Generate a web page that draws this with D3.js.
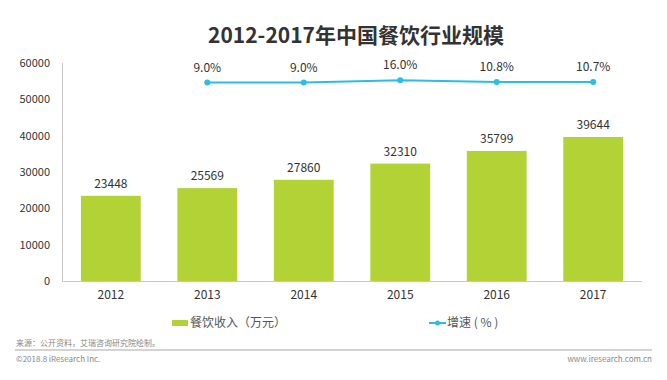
<!DOCTYPE html>
<html lang="zh">
  <head>
    <meta charset="UTF-8" />
    <script src="https://d3js.org/d3.v7.min.js"></script>
    <style>
      body { margin: 0; background: #fff; }
      text { font-family: "Noto Sans CJK SC", "Noto Sans", sans-serif; }
    </style>
  </head>
  <body>
    <script>
      // data
      var years = ["2012", "2013", "2014", "2015", "2016", "2017"];
      var revenue = [23448, 25569, 27860, 32310, 35799, 39644];
      var growthYears = ["2013", "2014", "2015", "2016", "2017"];
      var growth = [9.0, 9.0, 16.0, 10.8, 10.7];
      var yTicks = [0, 10000, 20000, 30000, 40000, 50000, 60000];

      var width = 667,
        height = 380;
      var barColor = "#b3d236",
        lineColor = "#2bbde3";

      var svg = d3
        .select("body")
        .append("svg")
        .attr("width", width)
        .attr("height", height);

      // title
      svg
        .append("text")
        .attr("x", 356)
        .attr("y", 43)
        .attr("text-anchor", "middle")
        .style("font-size", "21px")
        .style("font-weight", "bold")
        .style("fill", "#333")
        .text("2012-2017年中国餐饮行业规模");

      var x = d3
        .scaleBand()
        .domain(years)
        .range([62, 642])
        .paddingInner(0.38)
        .paddingOuter(0.196);

      var y = d3.scaleLinear().domain([0, 60000]).range([281, 63]);
      // secondary (hidden) axis for the growth line
      var y2 = d3.scaleLinear().domain([-570, 66]).range([281, 63]);

      // y tick labels
      svg
        .append("g")
        .selectAll("text")
        .data(yTicks)
        .enter()
        .append("text")
        .attr("x", 50)
        .attr("y", function (d) {
          return y(d);
        })
        .attr("dy", "0.35em")
        .attr("text-anchor", "end")
        .style("font-size", "11px")
        .style("fill", "#333")
        .text(function (d) {
          return d;
        });

      // axis lines
      svg
        .append("line")
        .attr("x1", 62.5)
        .attr("x2", 62.5)
        .attr("y1", y(60000))
        .attr("y2", y(0))
        .style("stroke", "#c8c8c8")
        .style("stroke-width", 1);
      svg
        .append("line")
        .attr("x1", 62)
        .attr("x2", 642)
        .attr("y1", y(0) + 0.5)
        .attr("y2", y(0) + 0.5)
        .style("stroke", "#c8c8c8")
        .style("stroke-width", 1);

      // bars
      svg
        .append("g")
        .selectAll("rect")
        .data(revenue)
        .enter()
        .append("rect")
        .attr("x", function (d, i) {
          return x(years[i]);
        })
        .attr("y", function (d) {
          return y(d);
        })
        .attr("width", x.bandwidth())
        .attr("height", function (d) {
          return y(0) - y(d);
        })
        .style("fill", barColor);

      // bar value labels
      svg
        .append("g")
        .selectAll("text")
        .data(revenue)
        .enter()
        .append("text")
        .attr("x", function (d, i) {
          return x(years[i]) + x.bandwidth() / 2;
        })
        .attr("y", function (d) {
          return y(d) - 8;
        })
        .attr("text-anchor", "middle")
        .style("font-size", "12px")
        .style("fill", "#333")
        .text(function (d) {
          return d;
        });

      // x labels
      svg
        .append("g")
        .selectAll("text")
        .data(years)
        .enter()
        .append("text")
        .attr("x", function (d) {
          return x(d) + x.bandwidth() / 2;
        })
        .attr("y", 299)
        .attr("text-anchor", "middle")
        .style("font-size", "12px")
        .style("fill", "#333")
        .text(function (d) {
          return d;
        });

      // growth line
      var line = d3
        .line()
        .x(function (d, i) {
          return x(growthYears[i]) + x.bandwidth() / 2;
        })
        .y(function (d) {
          return y2(d);
        });

      svg
        .append("path")
        .datum(growth)
        .attr("d", line)
        .style("fill", "none")
        .style("stroke", lineColor)
        .style("stroke-width", 2);

      svg
        .append("g")
        .selectAll("circle")
        .data(growth)
        .enter()
        .append("circle")
        .attr("cx", function (d, i) {
          return x(growthYears[i]) + x.bandwidth() / 2;
        })
        .attr("cy", function (d) {
          return y2(d);
        })
        .attr("r", 3)
        .style("fill", lineColor);

      svg
        .append("g")
        .selectAll("text")
        .data(growth)
        .enter()
        .append("text")
        .attr("x", function (d, i) {
          return x(growthYears[i]) + x.bandwidth() / 2;
        })
        .attr("y", function (d) {
          return y2(d) - 11;
        })
        .attr("text-anchor", "middle")
        .style("font-size", "12px")
        .style("fill", "#333")
        .text(function (d) {
          return d.toFixed(1) + "%";
        });

      // legend
      var legend = svg.append("g");
      legend
        .append("rect")
        .attr("x", 172)
        .attr("y", 320)
        .attr("width", 16)
        .attr("height", 6)
        .style("fill", barColor);
      legend
        .append("text")
        .attr("x", 190)
        .attr("y", 327)
        .style("font-size", "12px")
        .style("fill", "#555")
        .text("餐饮收入（万元）");
      legend
        .append("line")
        .attr("x1", 429)
        .attr("x2", 446)
        .attr("y1", 323)
        .attr("y2", 323)
        .style("stroke", lineColor)
        .style("stroke-width", 2);
      legend
        .append("circle")
        .attr("cx", 437.5)
        .attr("cy", 323)
        .attr("r", 2.5)
        .style("fill", lineColor);
      legend
        .append("text")
        .attr("x", 447)
        .attr("y", 327)
        .style("font-size", "12px")
        .style("fill", "#555")
        .text("增速 ( % )");

      // footer
      svg
        .append("text")
        .attr("x", 16)
        .attr("y", 346)
        .style("font-size", "8px")
        .style("fill", "#888")
        .text("来源：公开资料，艾瑞咨询研究院绘制。");
      svg
        .append("line")
        .attr("x1", 15)
        .attr("x2", 652)
        .attr("y1", 350)
        .attr("y2", 350)
        .style("stroke", "#c4c4c4")
        .style("stroke-width", 1.5);
      svg
        .append("text")
        .attr("x", 16)
        .attr("y", 362)
        .style("font-size", "8px")
        .style("fill", "#888")
        .text("©2018.8 iResearch Inc.");
      svg
        .append("text")
        .attr("x", 652)
        .attr("y", 362)
        .attr("text-anchor", "end")
        .style("font-size", "8px")
        .style("fill", "#888")
        .text("www.iresearch.com.cn");
    </script>
  </body>
</html>
